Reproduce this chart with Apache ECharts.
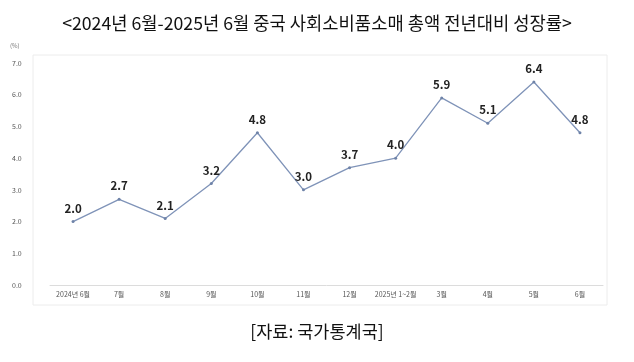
<!DOCTYPE html>
<html><head><meta charset="utf-8">
<script src="https://cdn.jsdelivr.net/npm/echarts@6/dist/echarts.min.js"></script>
<style>html,body{margin:0;padding:0;background:#fff}#c{width:634px;height:362px}</style>
</head><body><div id="c"></div>
<script>
const categories = ['2024년 6월','7월','8월','9월','10월','11월','12월','2025년 1~2월','3월','4월','5월','6월'];
const values = [2.0, 2.7, 2.1, 3.2, 4.8, 3.0, 3.7, 4.0, 5.9, 5.1, 6.4, 4.8];
const yTicks = ['0.0','1.0','2.0','3.0','4.0','5.0','6.0','7.0'];
const FONT = '"Noto Sans CJK KR", "Noto Sans", sans-serif';
const chart = echarts.init(document.getElementById('c'), null, {renderer:'canvas'});
chart.setOption({
  animation:false,
  backgroundColor:'#fff',
  title:[
    {text:'<2024년 6월-2025년 6월 중국 사회소비품소매 총액 전년대비 성장률>', left:'center', top:9,
     textStyle:{fontFamily:FONT, fontSize:17.7, fontWeight:'normal', color:'#111'}},
    {text:'[자료: 국가통계국]', left:'center', top:318,
     textStyle:{fontFamily:FONT, fontSize:17.5, fontWeight:'normal', color:'#111'}}
  ],
  graphic:[
    {type:'rect', shape:{x:33, y:55, width:574, height:250}, style:{fill:'none', stroke:'#ececec', lineWidth:1}, silent:true},
    {type:'text', left:10, top:43, style:{text:'(%)', fontSize:6, fill:'#777', fontFamily:FONT}}
  ],
  grid:{left:50, right:31, top:63, bottom:77, containLabel:false},
  xAxis:{type:'category', data:categories, boundaryGap:true,
    axisLine:{lineStyle:{color:'#dcdcdc'}}, axisTick:{show:false},
    axisLabel:{fontFamily:FONT, fontSize:7, color:'#555', margin:6, interval:0}},
  yAxis:{type:'value', min:0, max:7, interval:1,
    axisLine:{show:false}, axisTick:{show:false}, splitLine:{show:false},
    axisLabel:{fontFamily:FONT, fontSize:7, color:'#555', margin:38, align:'left',
      formatter:(v)=>yTicks[Math.round(v)]}},
  series:[{type:'line', data:values, symbol:'circle', symbolSize:3,
    lineStyle:{color:'#7f93b8', width:1.3}, itemStyle:{color:'#6f83a8'},
    label:{show:true, position:'top', distance:6, formatter:(p)=>p.value.toFixed(1),
      fontFamily:FONT, fontSize:11.5, fontWeight:'bold', color:'#222'}}]
});
</script></body></html>
